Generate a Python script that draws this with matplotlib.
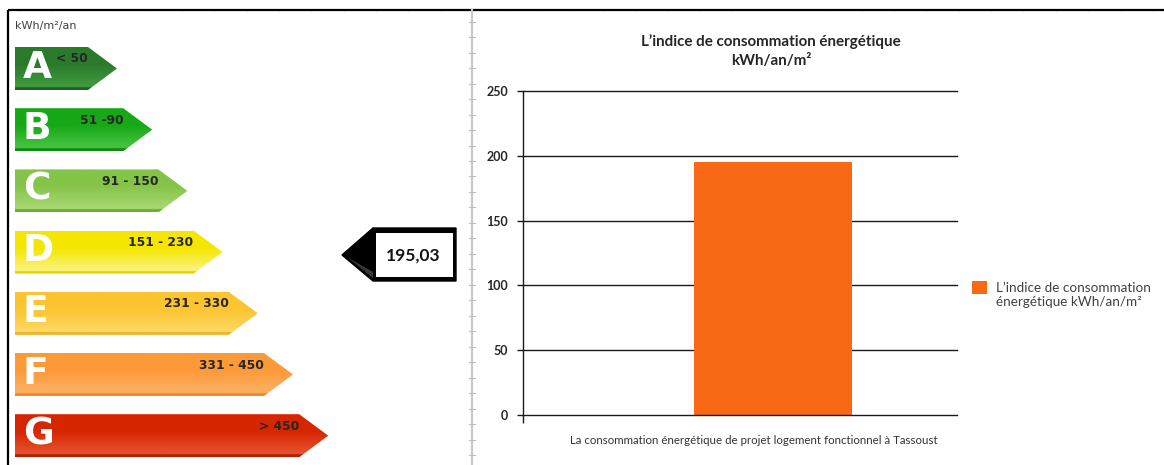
import matplotlib.pyplot as plt
import numpy as np
from matplotlib.patches import Polygon, Rectangle
from matplotlib.colors import to_rgb

# energy classes and their ranges (kWh/m²/an)
classes = ['A', 'B', 'C', 'D', 'E', 'F', 'G']
ranges = ['< 50', '51 -90', '91 - 150', '151 - 230', '231 - 330', '331 - 450', '> 450']

# consumption of the project
category = 'La consommation énergétique de projet logement fonctionnel à Tassoust'
value = 195.03
yticks = [0, 50, 100, 150, 200, 250]

# (top, bottom, rim) colours of each class arrow
class_colors = [
    ('#2b7a2c', '#3f9a3e', '#1f6121'),
    ('#17a817', '#45c340', '#128a12'),
    ('#84c448', '#a8d874', '#6aae33'),
    ('#f5e600', '#fbf27c', '#e6d200'),
    ('#fcc531', '#fdd862', '#f0b020'),
    ('#fc9a38', '#fdb062', '#f08a28'),
    ('#d62600', '#e5502d', '#b81e00'),
]

W, H = 1164, 465
fig = plt.figure(figsize=(W / 100, H / 100), dpi=100)
bg = fig.add_axes([0, 0, 1, 1])
bg.axis('off')


def vgrad(top, bottom, rim, n=120):
    t = np.linspace(0, 1, n)
    top, bottom, rim = map(np.array, (to_rgb(top), to_rgb(bottom), to_rgb(rim)))
    k = np.clip((t - 0.40) / 0.50, 0, 1)[:, None]
    col = top * (1 - k) + bottom * k
    col[t > 0.94] = rim
    return col[:, None, :]


# ---- energy label arrows ----
x0, h, depth = 15, 43, 29
for i, (cls, rng, cc) in enumerate(zip(classes, ranges, class_colors)):
    top_y = 47 + i * 61.2
    tip = 117 + i * 35.2
    poly = Polygon([(x0, top_y), (tip - depth, top_y), (tip, top_y + h / 2),
                    (tip - depth, top_y + h), (x0, top_y + h)],
                   closed=True, facecolor='none', edgecolor='none')
    bg.add_patch(poly)
    im = bg.imshow(vgrad(*cc), extent=(x0, tip, top_y + h, top_y),
                   aspect='auto', interpolation='bilinear', zorder=2)
    im.set_clip_path(poly)
    bg.text(23, top_y + h / 2 - 1, cls, color='white', fontsize=27,
            fontweight='bold', ha='left', va='center', zorder=3)
    bg.text(tip - 29, top_y + 12, rng, color='#262626', fontsize=8.8,
            fontweight='bold', ha='right', va='center', zorder=3)

bg.text(15, 26, 'kWh/m²/an', color='#404040', fontsize=8, ha='left', va='center')

# ---- value pointer ----
bg.add_patch(Polygon([(342, 255), (373, 228), (456, 228), (456, 281), (373, 281)],
                     closed=True, facecolor='black', edgecolor='black', zorder=2))
bg.add_patch(Polygon([(347, 257), (373, 272), (373, 278)], closed=True,
                     facecolor='#7a7a7a', edgecolor='none', alpha=0.45, zorder=2))
bg.add_patch(Rectangle((376, 233), 77, 44, facecolor='white', edgecolor='none', zorder=3))
bg.text(413, 256, f'{value:.2f}'.replace('.', ','), family='Lato', fontsize=12.5,
        fontweight='bold', color='#141414', ha='center', va='center', zorder=4)

# ---- frame lines ----
bg.plot([8, W], [10, 10], color='black', lw=1.6, solid_capstyle='butt')
bg.plot([8, 8], [10, H], color='black', lw=1.6, solid_capstyle='butt')
bg.plot([472, 472], [10, H], color='#c8c8c8', lw=1.6)
for k in range(29):
    y = 21.7 + 15.48 * k
    bg.plot([469, 475], [y, y], color='#bdbdbd', lw=0.8)
for k in range(36):
    x = 20 + 32.37 * k
    bg.plot([x, x], [11, 12.5], color='#e4e4e4', lw=0.6)

# ---- legend ----
bg.add_patch(Rectangle((972, 281), 15, 13, facecolor='#F96815', edgecolor='none'))
bg.text(996, 295, 'L’indice de consommation\nénergétique kWh/an/m²', family='Lato',
        fontsize=9.7, color='#404040', ha='left', va='center', linespacing=1.2)

bg.set_xlim(0, W)
bg.set_ylim(H, 0)

# ---- bar chart ----
ax = fig.add_axes([523 / W, 1 - 415 / H, 434 / W, 324 / H])
ax.bar([0], [value], width=1.0, color='#F96815', zorder=2)
ax.set_xlim(-250 / 158, 184 / 158)
ax.set_ylim(0, 250)
for v in yticks[1:]:
    ax.axhline(v, color='#1a1a1a', lw=1.0, zorder=1, clip_on=False)
for s in ['top', 'right']:
    ax.spines[s].set_visible(False)
for s in ['left', 'bottom']:
    ax.spines[s].set_color('#1a1a1a')
    ax.spines[s].set_linewidth(1.0)
ax.set_yticks(yticks)
ax.set_yticklabels([str(v) for v in yticks], family='Lato', fontweight='bold')
ax.tick_params(axis='y', length=4.3, width=1.0, pad=6.5, labelsize=9,
               color='#1a1a1a', labelcolor='#262626')
ax.set_xticks([ax.get_xlim()[0]])
ax.set_xticklabels([''])
ax.tick_params(axis='x', length=5.5, width=1.0, color='#1a1a1a')
ax.set_xlabel(category, family='Lato', fontsize=8.3, color='#333333')
ax.xaxis.label.set_va('center')
ax.xaxis.set_label_coords((754 - 523) / 434, -25 / 324)

fig.text(771 / W, 1 - 51 / H, 'L’indice de consommation énergétique\nkWh/an/m²',
         family='Lato', fontsize=10.9, fontweight='bold', color='#262626',
         ha='center', va='center', linespacing=1.4)

fig.savefig('out.png', dpi=100)
